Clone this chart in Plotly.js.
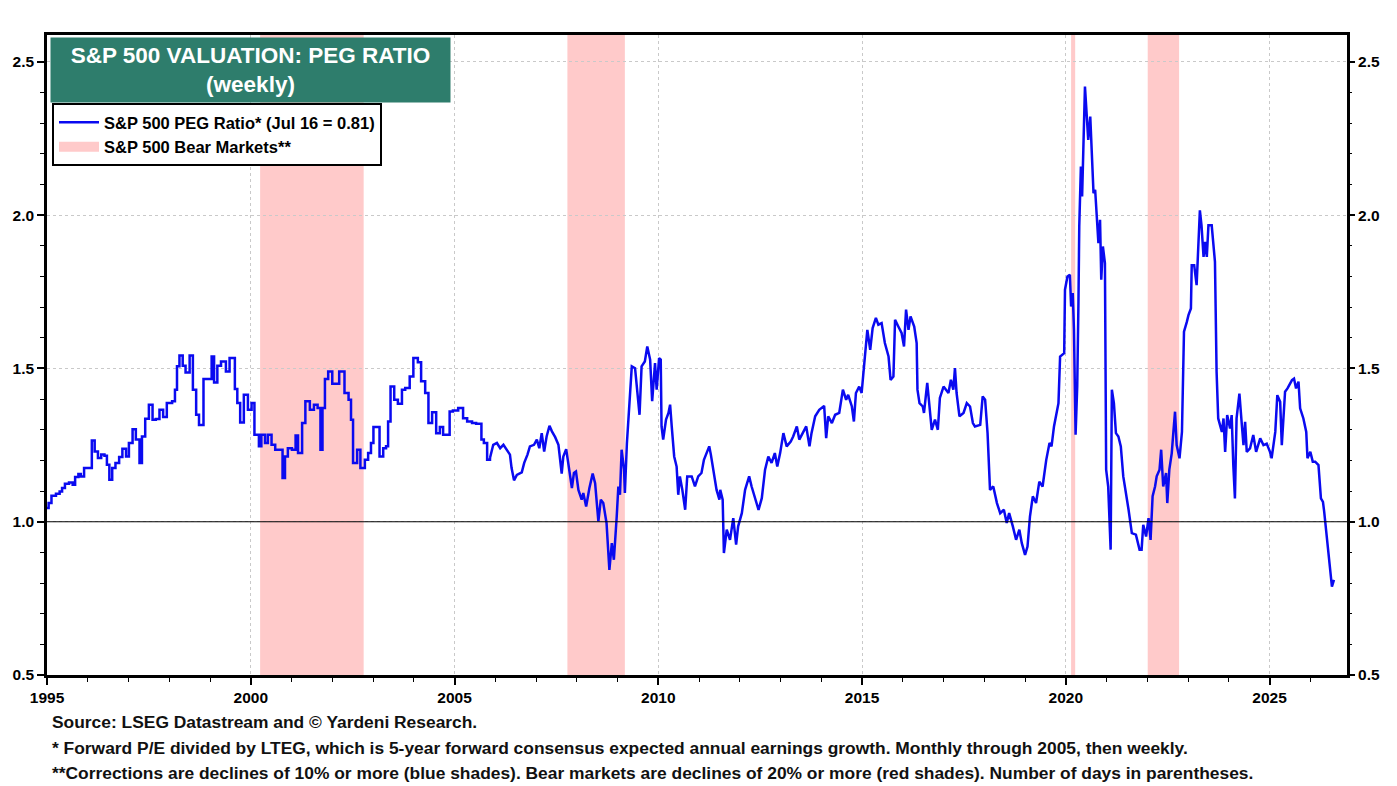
<!DOCTYPE html>
<html>
<head>
<meta charset="utf-8">
<script src="https://cdn.plot.ly/plotly-3.0.1.min.js"></script>
<style>
  html, body { margin: 0; padding: 0; background: #ffffff; }
  #chart { width: 1397px; height: 786px; }
</style>
</head>
<body>
<div id="chart"></div>
<script>
// ---- Data ----
// Monthly observations through 2005 (drawn as steps), decimal years
const monthlyYears = [
  1995.00,1995.04,1995.11,1995.22,1995.31,1995.37,1995.44,1995.54,1995.63,1995.69,1995.77,1995.83,1995.91,
  1996.10,1996.17,1996.25,1996.33,1996.41,1996.47,1996.53,1996.60,1996.68,1996.77,1996.85,1996.94,
  1997.01,1997.10,1997.18,1997.27,1997.33,1997.41,1997.50,1997.59,1997.67,1997.76,1997.85,1997.94,
  1998.07,1998.14,1998.19,1998.25,1998.33,1998.40,1998.50,1998.58,1998.66,1998.73,1998.84,
  1999.04,1999.10,1999.18,1999.27,1999.39,1999.48,1999.61,1999.67,1999.74,1999.83,1999.93,
  2000.02,2000.09,2000.20,2000.26,2000.35,2000.42,2000.51,2000.60,2000.78,2000.84,2000.91,
  2001.01,2001.10,2001.16,2001.26,2001.34,2001.45,2001.55,2001.64,2001.71,2001.76,2001.82,2001.90,
  2002.00,2002.17,2002.30,2002.40,2002.46,2002.51,2002.61,2002.69,2002.80,2002.88,2002.95,
  2003.01,2003.16,2003.25,2003.32,2003.37,2003.43,2003.52,2003.61,2003.71,2003.79,2003.90,2003.99,
  2004.10,2004.18,2004.28,2004.36,2004.45,2004.55,2004.64,2004.72,2004.88,2004.96,
  2005.09,2005.21,2005.31,2005.43,2005.53,2005.66,2005.72,2005.80,2005.87
];
const monthlyValues = [
  1.045,1.061,1.085,1.091,1.099,1.110,1.124,1.128,1.121,1.146,1.156,1.148,1.175,
  1.265,1.229,1.208,1.219,1.215,1.186,1.137,1.175,1.192,1.211,1.238,1.213,
  1.257,1.302,1.268,1.192,1.278,1.336,1.382,1.333,1.335,1.365,1.342,1.387,
  1.393,1.431,1.507,1.542,1.509,1.487,1.542,1.431,1.349,1.316,1.466,
  1.539,1.454,1.509,1.523,1.490,1.534,1.433,1.387,1.324,1.414,1.365,
  1.387,1.284,1.246,1.284,1.257,1.284,1.251,1.235,1.143,1.213,1.240,
  1.235,1.281,1.224,1.322,1.393,1.365,1.382,1.371,1.235,1.371,1.466,1.490,
  1.450,1.490,1.420,1.398,1.333,1.192,1.235,1.175,1.202,1.224,1.257,
  1.309,1.213,1.240,1.246,1.327,1.441,1.398,1.385,1.431,1.436,1.474,1.534,
  1.520,1.458,1.420,1.322,1.357,1.289,1.309,1.284,1.360,1.363,
  1.371,1.338,1.327,1.322,1.320,1.268,1.257,1.202,1.208
];

// Weekly observations from 2006 on, decimal years
const weeklyYears = [
  2005.87,2005.91,2005.95,2006.04,2006.12,2006.20,2006.28,2006.36,2006.40,2006.46,2006.53,2006.65,2006.71,2006.79,2006.85,2006.95,
  2007.02,2007.08,2007.14,2007.20,2007.26,2007.33,2007.39,2007.47,2007.55,2007.63,2007.67,2007.74,2007.79,2007.88,2007.93,2007.98,
  2008.04,2008.12,2008.16,2008.23,2008.31,2008.39,2008.45,2008.53,2008.59,2008.65,2008.73,2008.80,2008.86,2008.91,2008.98,
  2009.02,2009.06,2009.10,2009.16,2009.18,2009.23,2009.29,2009.35,2009.43,2009.49,2009.54,2009.59,2009.67,2009.73,2009.80,2009.85,2009.92,2009.96,
  2010.02,2010.06,2010.08,2010.12,2010.19,2010.25,2010.29,2010.33,2010.39,2010.45,2010.49,2010.53,2010.59,2010.66,2010.71,2010.82,2010.90,2010.98,
  2011.06,2011.12,2011.19,2011.25,2011.29,2011.35,2011.43,2011.50,2011.52,2011.58,2011.61,2011.68,2011.76,2011.84,2011.91,2011.96,
  2012.05,2012.13,2012.23,2012.29,2012.37,2012.46,2012.54,2012.62,2012.70,2012.78,2012.86,2012.92,2012.99,
  2013.07,2013.15,2013.25,2013.31,2013.40,2013.46,2013.54,2013.63,2013.71,2013.76,2013.85,2013.95,
  2014.07,2014.12,2014.17,2014.26,2014.34,2014.44,2014.53,2014.61,2014.66,2014.75,2014.80,2014.85,2014.93,2014.99,
  2015.03,2015.07,2015.13,2015.20,2015.26,2015.34,2015.40,2015.48,2015.56,2015.65,2015.70,2015.77,2015.81,2015.89,2015.97,
  2016.03,2016.08,2016.14,2016.19,2016.28,2016.34,2016.36,2016.41,2016.49,2016.52,2016.60,2016.65,2016.71,2016.79,2016.86,2016.91,
  2017.00,2017.12,2017.18,2017.24,2017.28,2017.32,2017.39,2017.49,2017.57,2017.65,2017.72,2017.77,2017.90,2017.96,
  2018.02,2018.08,2018.10,2018.14,2018.22,2018.31,2018.39,2018.48,2018.55,2018.61,2018.70,2018.78,2018.86,2018.92,
  2019.00,2019.06,2019.12,2019.19,2019.27,2019.35,2019.43,2019.52,2019.60,2019.65,2019.71,2019.78,2019.82,2019.86,2019.96,2019.98,
  2020.04,2020.10,2020.13,2020.17,2020.20,2020.24,2020.28,2020.31,2020.33,2020.37,2020.40,2020.43,2020.47,2020.51,2020.55,2020.60,
  2020.64,2020.68,2020.72,2020.76,2020.80,2020.84,2020.87,2020.91,2020.96,2020.99,
  2021.04,2021.10,2021.13,2021.18,2021.23,2021.29,2021.35,2021.41,2021.48,2021.54,2021.62,2021.72,2021.81,2021.86,2021.90,2021.97,
  2022.03,2022.08,2022.13,2022.19,2022.23,2022.30,2022.34,2022.39,2022.46,2022.49,2022.54,2022.60,2022.64,2022.68,2022.72,2022.79,2022.85,2022.87,2022.90,2022.97,
  2023.01,2023.07,2023.09,2023.15,2023.21,2023.29,2023.33,2023.38,2023.42,2023.46,2023.50,2023.58,2023.61,2023.66,2023.70,2023.74,2023.83,2023.87,2023.91,2023.96,
  2024.03,2024.07,2024.11,2024.15,2024.19,2024.26,2024.32,2024.36,2024.40,2024.44,2024.52,2024.60,2024.67,2024.77,2024.85,2024.93,
  2025.01,2025.05,2025.14,2025.19,2025.26,2025.30,2025.38,2025.44,2025.55,2025.60,2025.65,2025.71,2025.75,2025.83,2025.90,2025.93,
  2026.00,2026.06,2026.12,2026.20,2026.26,2026.31,2026.34,2026.39,2026.44,2026.48,2026.53,2026.58
];
const weeklyValues = [
  1.208,1.226,1.251,1.257,1.240,1.251,1.235,1.219,1.175,1.135,1.153,1.161,1.192,1.219,1.246,1.251,
  1.268,1.240,1.289,1.229,1.278,1.313,1.295,1.276,1.251,1.157,1.213,1.237,1.192,1.110,1.159,1.164,
  1.104,1.072,1.094,1.050,1.110,1.157,1.126,1.001,1.072,1.061,0.996,0.843,0.930,0.876,1.017,
  1.115,1.088,1.235,1.170,1.094,1.257,1.371,1.507,1.501,1.420,1.349,1.507,1.523,1.572,1.529,1.393,1.518,1.431,
  1.534,1.529,1.311,1.268,1.333,1.355,1.382,1.311,1.213,1.180,1.088,1.148,1.104,1.039,1.148,1.148,1.115,1.148,
  1.159,1.202,1.224,1.246,1.219,1.170,1.104,1.072,1.104,1.072,0.898,0.974,0.941,1.012,0.925,0.985,
  1.028,1.104,1.148,1.115,1.077,1.039,1.077,1.170,1.213,1.192,1.224,1.180,1.224,
  1.289,1.246,1.262,1.278,1.311,1.268,1.289,1.311,1.246,1.289,1.344,1.365,
  1.378,1.273,1.344,1.322,1.349,1.355,1.431,1.398,1.414,1.376,1.327,1.420,1.441,1.420,
  1.480,1.550,1.626,1.561,1.632,1.665,1.643,1.648,1.583,1.539,1.463,1.474,1.659,1.637,1.616,
  1.572,1.692,1.626,1.670,1.637,1.583,1.431,1.387,1.376,1.355,1.453,1.376,1.300,1.333,1.300,1.404,
  1.441,1.420,1.463,1.431,1.501,1.420,1.344,1.355,1.387,1.376,1.322,1.311,1.316,1.409,
  1.398,1.289,1.202,1.104,1.115,1.061,1.028,1.039,0.996,1.028,0.985,0.941,0.974,0.930,
  0.892,0.919,1.017,1.083,1.061,1.131,1.115,1.202,1.257,1.246,1.311,1.365,1.387,1.539,1.550,1.757,
  1.800,1.806,1.702,1.746,1.626,1.284,1.441,1.713,1.963,2.159,2.061,2.214,2.420,2.333,2.246,2.322,
  2.192,2.072,2.083,2.007,1.909,1.985,1.790,1.898,1.844,1.170,
  1.115,0.909,1.431,1.387,1.289,1.278,1.246,1.148,1.094,1.039,0.963,0.958,0.909,0.909,0.990,0.952,
  1.012,0.941,1.083,1.115,1.148,1.170,1.235,1.115,1.159,1.061,1.170,1.224,1.293,1.359,1.250,1.207,1.293,1.424,1.620,1.652,
  1.674,1.696,1.837,1.837,1.772,2.016,1.967,1.864,1.913,1.864,1.967,1.967,1.913,1.848,1.489,1.337,1.293,1.337,1.228,1.348,
  1.304,1.348,1.185,1.076,1.337,1.418,1.315,1.250,1.326,1.228,1.239,1.283,1.228,1.272,1.250,1.255,
  1.228,1.207,1.293,1.413,1.391,1.250,1.424,1.435,1.462,1.467,1.435,1.457,1.370,1.337,1.293,1.207,
  1.228,1.196,1.196,1.185,1.076,1.065,1.033,0.967,0.913,0.859,0.788,0.810
];

// S&P 500 bear markets (decimal years)
const bearStarts = [2000.23, 2007.77, 2020.13, 2022.01];
const bearEnds   = [2002.77, 2009.18, 2020.23, 2022.78];

const referenceLevel = 1.0;
const yTickValues = [0.5, 1.0, 1.5, 2.0, 2.5];
const xTickYears = [1995, 2000, 2005, 2010, 2015, 2020, 2025];

const titleLines = ['S&P 500 VALUATION: PEG RATIO', '(weekly)'];
const seriesName = 'S&P 500 PEG Ratio* (Jul 16 = 0.81)';
const bearName = 'S&P 500 Bear Markets**';
const footnotes = [
  'Source: LSEG Datastream and \u00a9 Yardeni Research.',
  '* Forward P/E divided by LTEG, which is 5-year forward consensus expected annual earnings growth. Monthly through 2005, then weekly.',
  '**Corrections are declines of 10% or more (blue shades). Bear markets are declines of 20% or more (red shades). Number of days in parentheses.'
];

// ---- Styling ----
const FONT = 'Arial, "Liberation Sans", sans-serif';
const BLUE = '#0A0AF0';
const PINK = '#FFCACA';
const GREEN = '#2E7D6C';
const Y_RANGE = [0.5, 2.588];
const X_RANGE = [1995, 2026.9];

const traces = [
  {
    x: monthlyYears, y: monthlyValues, type: 'scatter', mode: 'lines',
    line: {color: BLUE, width: 2.5, shape: 'hv'},
    showlegend: false, hoverinfo: 'x+y'
  },
  {
    x: weeklyYears, y: weeklyValues, type: 'scatter', mode: 'lines',
    name: seriesName,
    line: {color: BLUE, width: 2.5},
    hoverinfo: 'x+y'
  },
  {
    x: [null], y: [null], type: 'scatter', mode: 'lines',
    name: bearName,
    line: {color: PINK, width: 15}
  },
  {
    x: weeklyYears, y: weeklyValues, type: 'scatter', mode: 'lines',
    yaxis: 'y2', showlegend: false, hoverinfo: 'skip',
    line: {color: 'rgba(0,0,0,0)', width: 0}
  }
];

const shapes = bearStarts.map((s, i) => ({
  type: 'rect', xref: 'x', yref: 'paper',
  x0: s, x1: bearEnds[i], y0: 0, y1: 1,
  fillcolor: PINK, line: {width: 0}, layer: 'below'
}));
shapes.push({
  type: 'line', xref: 'paper', yref: 'y',
  x0: 0, x1: 1, y0: referenceLevel, y1: referenceLevel,
  line: {color: '#000000', width: 1.2}, layer: 'above'
});

const tickFont = {family: FONT, size: 15.5, color: '#000000', weight: 'bold'};

const yAxisCommon = {
  range: Y_RANGE,
  tickvals: yTickValues,
  ticktext: yTickValues.map(v => v.toFixed(1)),
  ticks: 'outside', ticklen: 7, tickwidth: 1.5, tickcolor: '#000',
  minor: {dtick: 0.1, tick0: 0.5, ticks: 'outside', ticklen: 4, tickwidth: 1, tickcolor: '#000', showgrid: false},
  tickfont: tickFont,
  zeroline: false,
  fixedrange: true
};

const annotations = [
  {
    xref: 'paper', yref: 'paper', x: 3 / 1300, y: 1 - 2 / 640,
    xanchor: 'left', yanchor: 'top',
    text: titleLines.join('<br>'),
    showarrow: false, align: 'center',
    width: 397, height: 62,
    bgcolor: GREEN, borderpad: 1,
    font: {family: FONT, size: 22.5, color: '#ffffff', weight: 'bold'}
  }
];
const footY = [722, 748, 773];
footnotes.forEach((t, i) => {
  annotations.push({
    xref: 'paper', yref: 'paper',
    x: 3 / 1300, y: (675 - footY[i]) / 640,
    xanchor: 'left', yanchor: 'middle',
    text: t, showarrow: false, align: 'left',
    font: {family: FONT, size: 17.4, color: '#111111', weight: 'bold'}
  });
});

const layout = {
  width: 1397, height: 786,
  margin: {l: 47, r: 50, t: 35, b: 111, pad: 0},
  paper_bgcolor: '#ffffff', plot_bgcolor: '#ffffff',
  font: {family: FONT, color: '#000'},
  showlegend: true,
  legend: {
    x: 5 / 1300, y: (675 - 103) / 640, xanchor: 'left', yanchor: 'top',
    bgcolor: '#ffffff', bordercolor: '#000000', borderwidth: 2,
    font: {family: FONT, size: 16.5, color: '#000', weight: 'bold'},
    itemwidth: 40, tracegroupgap: 0,
    traceorder: 'normal'
  },
  xaxis: {
    range: X_RANGE,
    tickvals: xTickYears,
    ticktext: xTickYears.map(String),
    ticks: 'outside', ticklen: 7, tickwidth: 1.5, tickcolor: '#000',
    minor: {dtick: 1, tick0: 1995, ticks: 'outside', ticklen: 4, tickwidth: 1, tickcolor: '#000', showgrid: false},
    tickfont: tickFont,
    showline: true, linecolor: '#000', linewidth: 2.5, mirror: true,
    showgrid: true, gridcolor: '#c9c9c9', griddash: 'dot', gridwidth: 1,
    zeroline: false, fixedrange: true
  },
  yaxis: Object.assign({}, yAxisCommon, {
    side: 'left',
    showline: true, linecolor: '#000', linewidth: 2.5, mirror: true,
    showgrid: true, gridcolor: '#c9c9c9', griddash: 'dot', gridwidth: 1
  }),
  yaxis2: Object.assign({}, yAxisCommon, {
    overlaying: 'y', side: 'right',
    showline: false, showgrid: false
  }),
  shapes: shapes,
  annotations: annotations,
  hovermode: 'closest'
};

Plotly.newPlot('chart', traces, layout, {displayModeBar: false, staticPlot: false});
</script>
</body>
</html>
